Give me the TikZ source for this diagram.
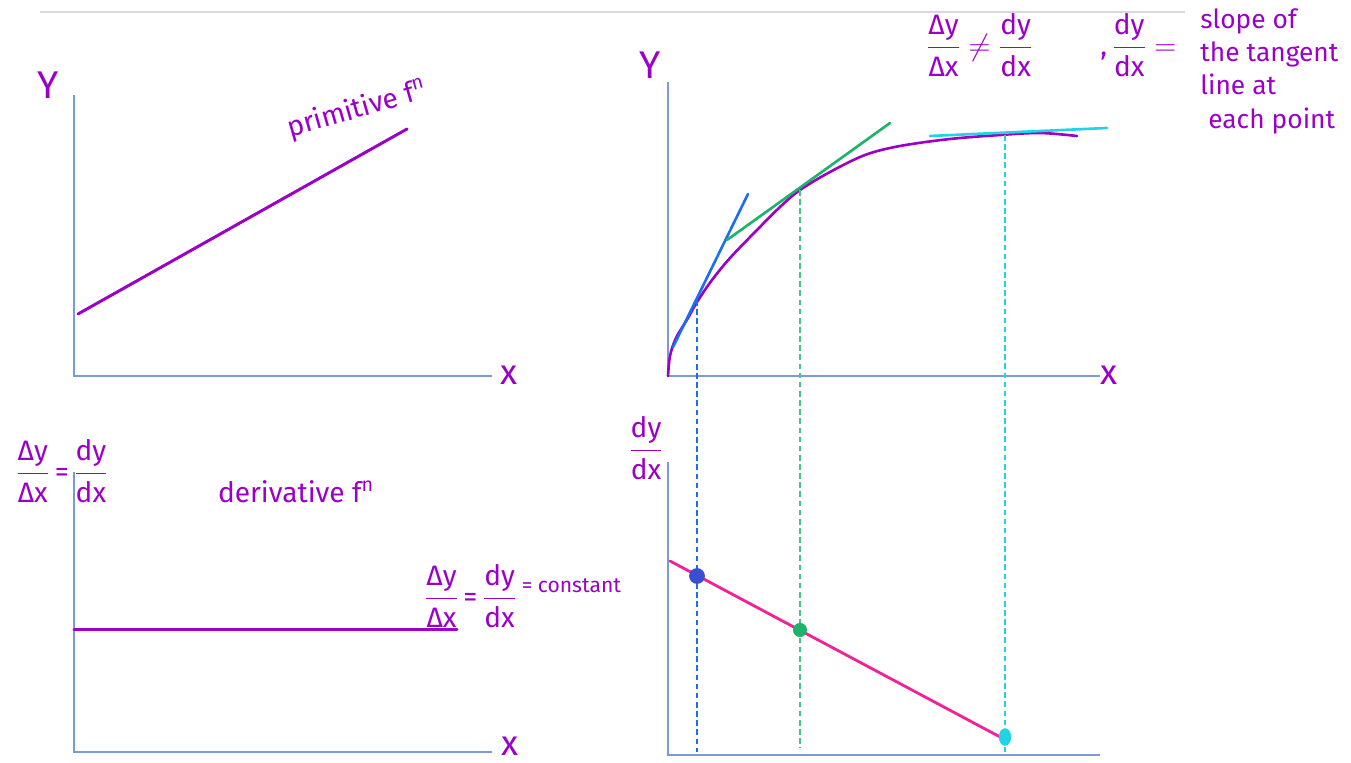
\documentclass[tikz,border=0pt]{standalone}
\usepackage{fontspec}
\usepackage{amsmath}
\usetikzlibrary{shapes.geometric}
\setmainfont{Fira Sans}
\definecolor{pur}{HTML}{9A00C8}
\definecolor{axc}{HTML}{7B9ADA}
\definecolor{tblue}{HTML}{1A6EF0}
\definecolor{tgreen}{HTML}{1DB36A}
\definecolor{tcyan}{HTML}{22D3E6}
\definecolor{tpink}{HTML}{F0229A}
\definecolor{dblue}{HTML}{3A4FD0}
\newcommand{\fr}[2]{$\dfrac{\hbox{#1}}{\hbox{#2}}$}
\tikzset{
  ax/.style={draw=axc, line width=0.9pt},
  fn/.style={draw=pur, line width=1.7pt, line cap=round},
  lab/.style={text=pur, font=\fontsize{16}{18}\selectfont, inner sep=0pt},
  big/.style={text=pur, font=\fontsize{22}{24}\selectfont, inner sep=0pt},
  xl/.style={text=pur, font=\fontsize{20}{22}\selectfont, inner sep=0pt},
  vdash/.style={dashed, dash pattern=on 3.2pt off 2pt, line width=1.3pt},
  tan/.style={line width=1.5pt, line cap=round}
}
\begin{document}
\begin{tikzpicture}[x=0.02cm, y=-0.02cm]
\useasboundingbox (0,0) rectangle (1351,763);
% top rule
\draw[gray!30, line width=0.8pt] (40,12) -- (1185,12);

% ---------- top-left ----------
\coordinate (tlO) at (74,376);
\coordinate (tlY) at (74,95);
\coordinate (tlX) at (492,376);
\draw[ax] (tlY) -- (tlO) -- (tlX);
\node[big] (tlYl) at (48,85) {Y};
\node[xl] (tlXl) at (509,375) {x};
\coordinate (p1) at (78,314);
\coordinate (p2) at (407,129);
\draw[fn] (p1) -- (p2);
\node[lab, rotate=16] (prim) at (357,110) {primitive f\textsuperscript{n}};

% ---------- bottom-left ----------
\coordinate (blO) at (74,752);
\coordinate (blY) at (74,472);
\coordinate (blX) at (492,752);
\draw[ax] (blY) -- (blO) -- (blX);
\node[xl] (blXl) at (510,746) {x};
\node[lab] (blYl) at (62,471) {\fr{Δy}{Δx}\,=\,\fr{dy}{dx}};
\node[lab] (deriv) at (296,492) {derivative f\textsuperscript{n}};
\coordinate (d1) at (74,629.5);
\coordinate (d2) at (457,629.5);
\draw[fn] (d1) -- (d2);
\node[lab, anchor=west] (const) at (424,596) {\fr{Δy}{Δx}\,=\,\fr{dy}{dx}\,\raisebox{8pt}{\fontsize{12}{12}\selectfont = constant}};

% ---------- top-right ----------
\coordinate (trO) at (668,376);
\coordinate (trY) at (668,82);
\coordinate (trX) at (1100,376);
\draw[ax] (trY) -- (trO) -- (trX);
\node[big] (trYl) at (650,65) {Y};
\node[xl] (trXl) at (1109,375) {x};
\draw[fn, line width=1.5pt] plot[smooth, tension=0.55] coordinates {
 (668,376) (670,356) (676,338) (688,318) (697,302) (712,280) (730,258) (755,232)
 (780,207) (800,190) (830,172) (865,155) (900,146) (950,139) (1000,135) (1040,133) (1077,136)};
\coordinate (b1) at (673,347);
\coordinate (b2) at (748,194);
\draw[tan, tblue] (b1) -- (b2);
\coordinate (g1) at (727,240);
\coordinate (g2) at (890,123);
\draw[tan, tgreen] (g1) -- (g2);
\coordinate (c1) at (930,136);
\coordinate (c2) at (1107,128);
\draw[tan, tcyan] (c1) -- (c2);

\node[lab, anchor=west] (neq) at (926,45) {\fr{Δy}{Δx}\;$\neq$\;\fr{dy}{dx}};
\node[lab, anchor=west] (eqs) at (1100,45) {,\,\fr{dy}{dx}\;$=$};
\node[lab, anchor=north west, align=left, font=\fontsize{15}{19}\selectfont] (slope) at (1200,8) {slope of\\the tangent\\line at\\\hspace*{0.3em}each point};

% ---------- bottom-right ----------
\coordinate (brO) at (668,755);
\coordinate (brY) at (668,462);
\coordinate (brX) at (1100,755);
\draw[ax] (brY) -- (brO) -- (brX);
\node[lab] (brYl) at (646,448) {\fr{dy}{dx}};
\coordinate (k1) at (670,561);
\coordinate (k2) at (1002,738);
\draw[tan, tpink, line width=1.6pt] (k1) -- (k2);

% dashed verticals
\coordinate (vb1) at (697,300);
\coordinate (vb2) at (697,752);
\coordinate (vg1) at (800,190);
\coordinate (vg2) at (800,748);
\coordinate (vc1) at (1005,135);
\coordinate (vc2) at (1005,752);
\draw[vdash, tblue] (vb1) -- (vb2);
\draw[vdash, tgreen!80!white] (vg1) -- (vg2);
\draw[vdash, tcyan] (vc1) -- (vc2);

\node[circle, fill=dblue, inner sep=0pt, minimum size=9pt] (db) at (697,576) {};
\node[circle, fill=tgreen, inner sep=0pt, minimum size=8pt] (dg) at (800,630) {};
\node[ellipse, fill=tcyan, inner sep=0pt, minimum width=7pt, minimum height=10pt] (dc) at (1005,737) {};
\end{tikzpicture}
\end{document}
